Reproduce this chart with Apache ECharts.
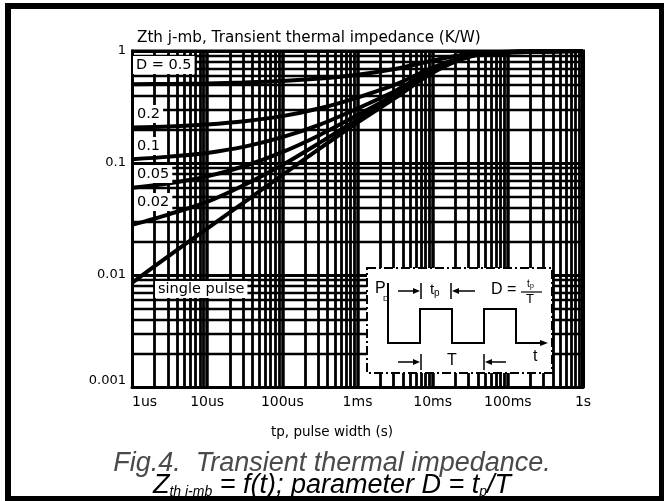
<!DOCTYPE html>
<html>
<head>
<meta charset="utf-8">
<script src="https://cdn.jsdelivr.net/npm/echarts@6/dist/echarts.min.js"></script>
<style>
html,body{margin:0;padding:0;background:#fff;}
#c{width:664px;height:501px;}
</style>
</head>
<body>
<div id="c"></div>
<script>
// ---- data ----
var tp = [1e-6, 3.16e-6, 1e-5, 3.16e-5, 1e-4, 3.16e-4, 1e-3, 3.16e-3, 1e-2, 3.16e-2, 1e-1, 3.16e-1, 1];
var zSingle = [0.0085, 0.015, 0.026, 0.045, 0.078, 0.135, 0.23, 0.38, 0.64, 0.89, 0.97, 0.99, 1.0];
var zD002 = [0.028, 0.035, 0.045, 0.064, 0.096, 0.152, 0.245, 0.39, 0.65, 0.9, 0.97, 0.99, 1.0];
var zD005 = [0.06, 0.066, 0.076, 0.094, 0.125, 0.178, 0.268, 0.41, 0.66, 0.9, 0.97, 0.99, 1.0];
var zD01 = [0.108, 0.114, 0.123, 0.14, 0.17, 0.22, 0.307, 0.44, 0.68, 0.91, 0.975, 0.99, 1.0];
var zD02 = [0.207, 0.212, 0.221, 0.236, 0.262, 0.308, 0.384, 0.5, 0.71, 0.92, 0.98, 0.995, 1.0];
var zD05 = [0.504, 0.508, 0.513, 0.523, 0.539, 0.568, 0.615, 0.69, 0.82, 0.95, 0.985, 0.995, 1.0];
var xTickLabels = ['1us', '10us', '100us', '1ms', '10ms', '100ms', '1s'];
var yTickLabels = ['0.001', '0.01', '0.1', '1'];

var X_MIN = 1e-6, X_MAX = 1, Y_MIN = 0.001, Y_MAX = 1;

function pairs(ys) { return tp.map(function (t, i) { return [t, ys[i]]; }); }

// grid lines at 1..9 per decade, drawn through the axes' scales
var gridLines = [];
for (var e = -6; e <= 0; e++) {
  for (var m = 1; m <= 9; m++) {
    var v = m * Math.pow(10, e);
    if (v > 1.0000001) break;
    gridLines.push({ coords: [[v, Y_MIN], [v, Y_MAX]], lineStyle: { width: m === 1 ? 3.5 : 2.8 } });
  }
}
for (var e2 = -3; e2 <= 0; e2++) {
  for (var m2 = 1; m2 <= 9; m2++) {
    var w = m2 * Math.pow(10, e2);
    if (w > 1.0000001) break;
    gridLines.push({ coords: [[X_MIN, w], [X_MAX, w]], lineStyle: { width: m2 === 1 ? 3 : 2.3 } });
  }
}

var FONT = 'Liberation Sans';
var DV = '"DejaVu Sans"';
var curveStyle = { color: '#000', width: 4 };
function curve(name, ys) {
  return { name: name, type: 'line', data: pairs(ys), showSymbol: false, smooth: 0.3,
    lineStyle: curveStyle, itemStyle: { color: '#000' }, z: 5, silent: true };
}
function lbl(text, left, top, size, pad) {
  return { type: 'text', left: left, top: top, z: 60,
    style: { text: text, font: size + 'px ' + DV, fill: '#000', backgroundColor: '#fff', padding: pad || [2, 3, 1, 3] } };
}

var chart = echarts.init(document.getElementById('c'), null, { renderer: 'canvas' });
chart.setOption({
  animation: false,
  backgroundColor: '#fff',
  grid: { left: 132, right: 81, top: 51, bottom: 114, containLabel: false },
  xAxis: {
    type: 'log', logBase: 10, min: X_MIN, max: X_MAX, splitNumber: 6,
    axisLine: { show: true, lineStyle: { color: '#000', width: 3 } },
    axisTick: { show: false },
    splitLine: { show: false },
    axisLabel: {
      color: '#000', fontFamily: 'DejaVu Sans', fontSize: 14, margin: 8, alignMinLabel: 'left',
      formatter: function (v) { return xTickLabels[Math.round(Math.log10(v) + 6)]; }
    }
  },
  yAxis: {
    type: 'log', logBase: 10, min: Y_MIN, max: Y_MAX, splitNumber: 3,
    axisLine: { show: true, lineStyle: { color: '#000', width: 3 } },
    axisTick: { show: false },
    splitLine: { show: false },
    axisLabel: {
      color: '#000', fontFamily: 'DejaVu Sans', fontSize: 13, margin: 6, verticalAlignMinLabel: 'bottom',
      formatter: function (v) { return yTickLabels[Math.round(Math.log10(v) + 3)]; }
    }
  },
  series: [
    { type: 'lines', coordinateSystem: 'cartesian2d', polyline: false, silent: true, z: 2,
      lineStyle: { color: '#000', width: 2, opacity: 1, curveness: 0 },
      data: gridLines },
    curve('D = 0.5', zD05),
    curve('0.2', zD02),
    curve('0.1', zD01),
    curve('0.05', zD005),
    curve('0.02', zD002),
    curve('single pulse', zSingle)
  ],
  graphic: [
    // outer frame
    { type: 'rect', shape: { x: 8, y: 6, width: 654, height: 493 }, style: { fill: null, stroke: '#000', lineWidth: 6 }, z: 100 },
    // plot frame right/top
    { type: 'line', shape: { x1: 583, y1: 50, x2: 583, y2: 388 }, style: { stroke: '#000', lineWidth: 4 }, z: 50 },
    { type: 'line', shape: { x1: 131, y1: 51, x2: 585, y2: 51 }, style: { stroke: '#000', lineWidth: 3 }, z: 50 },
    // y axis title
    { type: 'text', left: 137, top: 31, z: 60, style: { text: 'Zth j-mb, Transient thermal impedance (K/W)', font: '15.2px ' + DV, fill: '#000', backgroundColor: '#fff' } },
    // curve labels
    lbl('D = 0.5', 133, 56, 14.5),
    lbl('0.2', 134, 105, 14.5),
    lbl('0.1', 134, 137, 14.5),
    lbl('0.05', 134, 165, 14.5),
    lbl('0.02', 134, 193, 14.5),
    lbl('single pulse', 155, 281, 14.5, [1, 3, 1, 3]),
    // x axis title
    { type: 'text', left: 271, top: 425, z: 60, style: { text: 'tp, pulse width (s)', font: '13.5px ' + DV, fill: '#000' } },
    // caption
    { type: 'text', left: 'center', top: 450, z: 60, style: { text: 'Fig.4.  Transient thermal impedance.', font: 'italic 27px "Liberation Sans"', fill: '#4a4a4a' } },
    { type: 'text', left: 'center', top: 472, z: 60, style: {
        text: '{z|Z}{s|th j-mb}{z| = f(t); parameter D = t}{s|p}{z|/T}',
        rich: { z: { fontSize: 27, fontStyle: 'italic', color: '#4a4a4a', fontFamily: FONT },
                s: { fontSize: 14, fontStyle: 'italic', color: '#4a4a4a', fontFamily: FONT, verticalAlign: 'bottom', padding: [12, 0, 0, 0] } } } },
    // inset diagram
    { type: 'rect', z: 70, shape: { x: 367, y: 268, width: 185, height: 105 }, style: { fill: '#fff', stroke: '#000', lineWidth: 2, lineDash: [9, 3, 2, 3] } },
    { type: 'polyline', z: 71, shape: { points: [[388, 283], [388, 343], [420, 343], [420, 309], [452, 309], [452, 343], [484, 343], [484, 309], [516, 309], [516, 343], [545, 343]] }, style: { stroke: '#000', lineWidth: 2, fill: null } },
    { type: 'polygon', z: 71, shape: { points: [[548, 343], [540, 340], [540, 346]] }, style: { fill: '#000' } },
    { type: 'text', z: 71, left: 375, top: 281, style: { text: 'P', font: '16px "Liberation Sans"', fill: '#000' } },
    { type: 'text', z: 71, left: 383, top: 295, style: { text: 'D', font: '8px "Liberation Sans"', fill: '#000' } },
    { type: 'text', z: 71, left: 533, top: 349, style: { text: 't', font: '16px "Liberation Sans"', fill: '#000' } },
    // tp arrows
    { type: 'line', z: 71, shape: { x1: 398, y1: 291, x2: 418, y2: 291 }, style: { stroke: '#000', lineWidth: 1.5 } },
    { type: 'polygon', z: 71, shape: { points: [[420, 291], [413, 288], [413, 294]] }, style: { fill: '#000' } },
    { type: 'line', z: 71, shape: { x1: 421, y1: 283, x2: 421, y2: 299 }, style: { stroke: '#000', lineWidth: 1.5 } },
    { type: 'text', z: 71, left: 430, top: 282, style: { text: 't', font: '15px "Liberation Sans"', fill: '#000' } },
    { type: 'text', z: 71, left: 434, top: 288, style: { text: 'p', font: '10px "Liberation Sans"', fill: '#000' } },
    { type: 'line', z: 71, shape: { x1: 451, y1: 283, x2: 451, y2: 299 }, style: { stroke: '#000', lineWidth: 1.5 } },
    { type: 'line', z: 71, shape: { x1: 454, y1: 291, x2: 475, y2: 291 }, style: { stroke: '#000', lineWidth: 1.5 } },
    { type: 'polygon', z: 71, shape: { points: [[452, 291], [459, 288], [459, 294]] }, style: { fill: '#000' } },
    // D = tp/T
    { type: 'text', z: 71, left: 491, top: 282, style: { text: 'D =', font: '16px "Liberation Sans"', fill: '#000' } },
    { type: 'line', z: 71, shape: { x1: 521, y1: 292, x2: 542, y2: 292 }, style: { stroke: '#000', lineWidth: 1.2 } },
    { type: 'text', z: 71, left: 527, top: 279, style: { text: 't', font: '10px "Liberation Sans"', fill: '#000' } },
    { type: 'text', z: 71, left: 530, top: 283, style: { text: 'p', font: '7px "Liberation Sans"', fill: '#000' } },
    { type: 'text', z: 71, left: 526, top: 293, style: { text: 'T', font: '13px "Liberation Sans"', fill: '#000' } },
    // T arrows
    { type: 'line', z: 71, shape: { x1: 398, y1: 362, x2: 418, y2: 362 }, style: { stroke: '#000', lineWidth: 1.5 } },
    { type: 'polygon', z: 71, shape: { points: [[420, 362], [413, 359], [413, 365]] }, style: { fill: '#000' } },
    { type: 'line', z: 71, shape: { x1: 421, y1: 354, x2: 421, y2: 370 }, style: { stroke: '#000', lineWidth: 1.5 } },
    { type: 'text', z: 71, left: 447, top: 353, style: { text: 'T', font: '16px "Liberation Sans"', fill: '#000' } },
    { type: 'line', z: 71, shape: { x1: 484, y1: 354, x2: 484, y2: 370 }, style: { stroke: '#000', lineWidth: 1.5 } },
    { type: 'line', z: 71, shape: { x1: 487, y1: 362, x2: 506, y2: 362 }, style: { stroke: '#000', lineWidth: 1.5 } },
    { type: 'polygon', z: 71, shape: { points: [[485, 362], [492, 359], [492, 365]] }, style: { fill: '#000' } }
  ]
});
</script>
</body>
</html>
